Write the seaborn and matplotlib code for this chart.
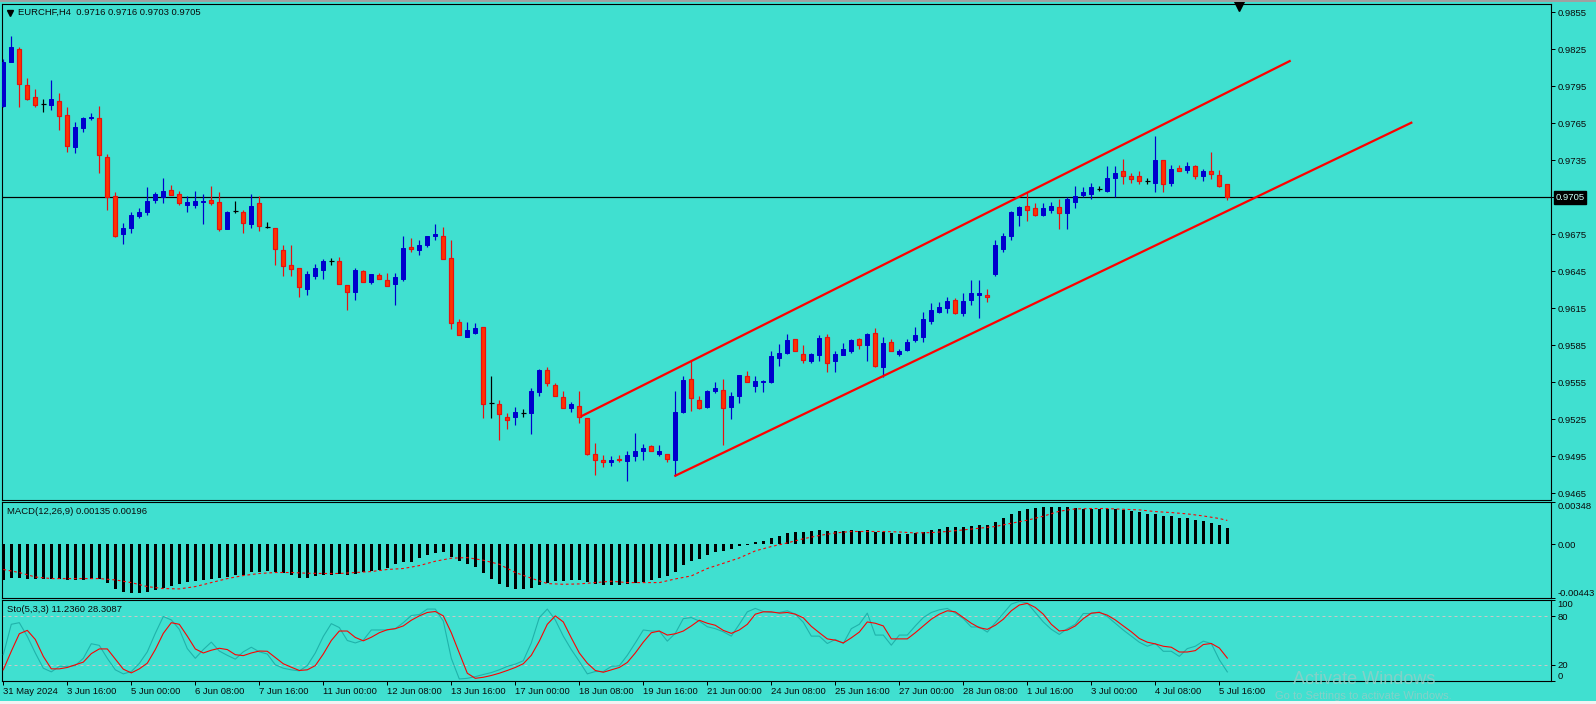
import numpy as np
import pandas as pd
import matplotlib
matplotlib.use("Agg")
import matplotlib.pyplot as plt
import matplotlib.transforms as mtransforms
from matplotlib.lines import Line2D
from matplotlib.patches import Rectangle
import seaborn as sns

plt.rcParams['font.family'] = ['Liberation Sans', 'DejaVu Sans']

# ---------------- data ----------------
symbol = "EURCHF,H4"
header_ohlc = ["0.9716", "0.9716", "0.9703", "0.9705"]
macd_header = "MACD(12,26,9) 0.00135 0.00196"
sto_header = "Sto(5,3,3) 11.2360 28.3087"

opens = [0.9779, 0.9815, 0.9825, 0.9796, 0.9786, 0.9781, 0.9780, 0.9783, 0.9772, 0.9746,
         0.9761, 0.9769, 0.9769, 0.9738, 0.9706, 0.9675, 0.9680, 0.9690, 0.9693, 0.9703,
         0.9705, 0.9711, 0.9708, 0.9699, 0.9699, 0.9701, 0.9703, 0.9701, 0.9679, 0.9694,
         0.9693, 0.9683, 0.9700, 0.9681, 0.9680, 0.9662, 0.9650, 0.9648, 0.9631, 0.9641,
         0.9646, 0.9653, 0.9653, 0.9634, 0.9628, 0.9645, 0.9636, 0.9642, 0.9638, 0.9635,
         0.9639, 0.9665, 0.9662, 0.9666, 0.9674, 0.9674, 0.9656, 0.9604, 0.9592, 0.9595,
         0.9600, 0.9538, 0.9537, 0.9527, 0.9527, 0.9530, 0.9530, 0.9547, 0.9565, 0.9553,
         0.9543, 0.9534, 0.9536, 0.9526, 0.9497, 0.9492, 0.9490, 0.9493, 0.9491, 0.9495,
         0.9499, 0.9503, 0.9497, 0.9497, 0.9492, 0.9531, 0.9558, 0.9541, 0.9535, 0.9548,
         0.9549, 0.9535, 0.9544, 0.9560, 0.9552, 0.9555, 0.9555, 0.9575, 0.9579, 0.9590,
         0.9578, 0.9572, 0.9577, 0.9592, 0.9572, 0.9577, 0.9580, 0.9590, 0.9585, 0.9595,
         0.9567, 0.9588, 0.9578, 0.9581, 0.9589, 0.9592, 0.9605, 0.9612, 0.9615, 0.9622,
         0.9611, 0.9622, 0.9626, 0.9626, 0.9643, 0.9663, 0.9674, 0.9691, 0.9698, 0.9696,
         0.9691, 0.9695, 0.9697, 0.9692, 0.9701, 0.9707, 0.9708, 0.9712, 0.9710, 0.9721,
         0.9726, 0.9722, 0.9722, 0.9718, 0.9717, 0.9735, 0.9717, 0.9729, 0.9727, 0.9730,
         0.9722, 0.9726, 0.9723, 0.9716]
highs = [0.9817, 0.9836, 0.9827, 0.9802, 0.9793, 0.9785, 0.9800, 0.9790, 0.9778, 0.9766,
         0.9770, 0.9773, 0.9779, 0.9740, 0.9709, 0.9684, 0.9693, 0.9696, 0.9713, 0.9709,
         0.9721, 0.9715, 0.9710, 0.9706, 0.9710, 0.9708, 0.9714, 0.9709, 0.9694, 0.9702,
         0.9695, 0.9708, 0.9706, 0.9685, 0.9680, 0.9666, 0.9666, 0.9648, 0.9645, 0.9651,
         0.9655, 0.9656, 0.9657, 0.9634, 0.9648, 0.9646, 0.9643, 0.9644, 0.9644, 0.9644,
         0.9674, 0.9672, 0.9670, 0.9674, 0.9683, 0.9681, 0.9670, 0.9606, 0.9604, 0.9603,
         0.9600, 0.9560, 0.9541, 0.9530, 0.9535, 0.9533, 0.9550, 0.9566, 0.9567, 0.9554,
         0.9548, 0.9539, 0.9548, 0.9526, 0.9506, 0.9496, 0.9495, 0.9496, 0.9499, 0.9514,
         0.9505, 0.9504, 0.9504, 0.9497, 0.9548, 0.9560, 0.9573, 0.9544, 0.9549, 0.9555,
         0.9558, 0.9547, 0.9561, 0.9564, 0.9560, 0.9557, 0.9580, 0.9586, 0.9594, 0.9590,
         0.9585, 0.9579, 0.9593, 0.9594, 0.9580, 0.9587, 0.9590, 0.9591, 0.9595, 0.9599,
         0.9592, 0.9590, 0.9582, 0.9590, 0.9600, 0.9612, 0.9619, 0.9620, 0.9624, 0.9623,
         0.9627, 0.9638, 0.9638, 0.9631, 0.9670, 0.9676, 0.9694, 0.9698, 0.9709, 0.9700,
         0.9700, 0.9701, 0.9704, 0.9705, 0.9714, 0.9713, 0.9717, 0.9714, 0.9730, 0.9730,
         0.9736, 0.9725, 0.9726, 0.9721, 0.9755, 0.9735, 0.9731, 0.9731, 0.9734, 0.9731,
         0.9728, 0.9742, 0.9727, 0.9716]
lows = [0.9778, 0.9815, 0.9778, 0.9784, 0.9778, 0.9774, 0.9776, 0.9760, 0.9742, 0.9741,
        0.9758, 0.9768, 0.9725, 0.9695, 0.9673, 0.9667, 0.9676, 0.9688, 0.9691, 0.9700,
        0.9700, 0.9707, 0.9699, 0.9693, 0.9696, 0.9683, 0.9699, 0.9678, 0.9679, 0.9692,
        0.9676, 0.9680, 0.9678, 0.9680, 0.9650, 0.9641, 0.9641, 0.9624, 0.9626, 0.9639,
        0.9639, 0.9650, 0.9635, 0.9614, 0.9622, 0.9636, 0.9635, 0.9639, 0.9633, 0.9618,
        0.9637, 0.9661, 0.9658, 0.9665, 0.9670, 0.9655, 0.9598, 0.9593, 0.9592, 0.9594,
        0.9526, 0.9526, 0.9508, 0.9517, 0.9520, 0.9527, 0.9513, 0.9544, 0.9552, 0.9544,
        0.9534, 0.9531, 0.9522, 0.9496, 0.9480, 0.9486, 0.9487, 0.9490, 0.9475, 0.9491,
        0.9492, 0.9499, 0.9495, 0.9490, 0.9479, 0.9530, 0.9532, 0.9533, 0.9534, 0.9546,
        0.9504, 0.9525, 0.9538, 0.9555, 0.9547, 0.9547, 0.9554, 0.9568, 0.9578, 0.9580,
        0.9571, 0.9571, 0.9572, 0.9563, 0.9563, 0.9577, 0.9579, 0.9582, 0.9572, 0.9567,
        0.9559, 0.9580, 0.9576, 0.9580, 0.9588, 0.9588, 0.9602, 0.9611, 0.9611, 0.9610,
        0.9609, 0.9618, 0.9607, 0.9620, 0.9641, 0.9661, 0.9670, 0.9682, 0.9686, 0.9690,
        0.9690, 0.9692, 0.9679, 0.9679, 0.9696, 0.9705, 0.9704, 0.9710, 0.9709, 0.9705,
        0.9716, 0.9717, 0.9716, 0.9716, 0.9709, 0.9709, 0.9714, 0.9726, 0.9725, 0.9720,
        0.9718, 0.9720, 0.9713, 0.9703]
closes = [0.9815, 0.9827, 0.9797, 0.9785, 0.9780, 0.9781, 0.9785, 0.9771, 0.9747, 0.9762,
          0.9769, 0.9770, 0.9739, 0.9705, 0.9674, 0.9680, 0.9691, 0.9693, 0.9702, 0.9708,
          0.9710, 0.9707, 0.9700, 0.9701, 0.9702, 0.9702, 0.9700, 0.9679, 0.9693, 0.9694,
          0.9684, 0.9698, 0.9682, 0.9681, 0.9663, 0.9649, 0.9647, 0.9632, 0.9643, 0.9648,
          0.9653, 0.9653, 0.9635, 0.9628, 0.9646, 0.9636, 0.9643, 0.9639, 0.9633, 0.9640,
          0.9664, 0.9663, 0.9666, 0.9674, 0.9675, 0.9655, 0.9603, 0.9593, 0.9597, 0.9599,
          0.9537, 0.9538, 0.9529, 0.9524, 0.9531, 0.9530, 0.9548, 0.9565, 0.9554, 0.9544,
          0.9534, 0.9537, 0.9527, 0.9497, 0.9492, 0.9490, 0.9492, 0.9492, 0.9496, 0.9499,
          0.9502, 0.9499, 0.9499, 0.9493, 0.9531, 0.9557, 0.9542, 0.9534, 0.9548, 0.9550,
          0.9534, 0.9544, 0.9561, 0.9555, 0.9556, 0.9556, 0.9576, 0.9579, 0.9589, 0.9580,
          0.9573, 0.9578, 0.9591, 0.9571, 0.9578, 0.9582, 0.9589, 0.9585, 0.9594, 0.9568,
          0.9587, 0.9580, 0.9580, 0.9588, 0.9593, 0.9606, 0.9614, 0.9616, 0.9621, 0.9611,
          0.9621, 0.9627, 0.9627, 0.9624, 0.9666, 0.9674, 0.9693, 0.9697, 0.9695, 0.9691,
          0.9696, 0.9698, 0.9692, 0.9704, 0.9706, 0.9709, 0.9713, 0.9712, 0.9721, 0.9725,
          0.9722, 0.9720, 0.9718, 0.9718, 0.9735, 0.9716, 0.9728, 0.9726, 0.9730, 0.9722,
          0.9726, 0.9724, 0.9714, 0.9705]

macd_hist = [-0.00298, -0.00276, -0.00276, -0.00284, -0.00287, -0.00287, -0.00287, -0.00287, -0.00298, -0.00298,
             -0.00293, -0.00287, -0.00287, -0.00323, -0.00372, -0.00394, -0.00405, -0.00405, -0.00394, -0.00381,
             -0.00364, -0.00348, -0.00331, -0.00315, -0.00303, -0.00295, -0.00290, -0.00279, -0.00270, -0.00251,
             -0.00251, -0.00232, -0.00227, -0.00218, -0.00227, -0.00237, -0.00251, -0.00276, -0.00276, -0.00265,
             -0.00257, -0.00251, -0.00246, -0.00251, -0.00243, -0.00232, -0.00218, -0.00210, -0.00194, -0.00166,
             -0.00144, -0.00144, -0.00117, -0.00092, -0.00076, -0.00068, -0.00109, -0.00142, -0.00166, -0.00185,
             -0.00239, -0.00283, -0.00325, -0.00356, -0.00367, -0.00372, -0.00364, -0.00334, -0.00317, -0.00307,
             -0.00307, -0.00298, -0.00298, -0.00315, -0.00331, -0.00339, -0.00339, -0.00339, -0.00328, -0.00320,
             -0.00309, -0.00293, -0.00282, -0.00265, -0.00232, -0.00175, -0.00142, -0.00125, -0.00092, -0.00068,
             -0.00059, -0.00043, -0.00011, -0.00005, 0.00019, 0.00027, 0.00049, 0.00066, 0.00093, 0.00101,
             0.00101, 0.00107, 0.00114, 0.00107, 0.00107, 0.00107, 0.00115, 0.00110, 0.00115, 0.00101,
             0.00101, 0.00093, 0.00085, 0.00088, 0.00096, 0.00101, 0.00115, 0.00126, 0.00140, 0.00140,
             0.00140, 0.00151, 0.00159, 0.00159, 0.00181, 0.00214, 0.00250, 0.00272, 0.00291, 0.00299,
             0.00307, 0.00307, 0.00307, 0.00305, 0.00297, 0.00291, 0.00291, 0.00291, 0.00291, 0.00291,
             0.00280, 0.00272, 0.00264, 0.00250, 0.00250, 0.00233, 0.00233, 0.00217, 0.00217, 0.00198,
             0.00190, 0.00173, 0.00159, 0.00135]
# signal line read at every second bar (plus the last one)
macd_signal = [-0.00208, -0.00233, -0.00270, -0.00283, -0.00283, -0.00283, -0.00283, -0.00294, -0.00316, -0.00349,
               -0.00365, -0.00368, -0.00349, -0.00316, -0.00283, -0.00258, -0.00241, -0.00233, -0.00233, -0.00239,
               -0.00241, -0.00241, -0.00233, -0.00225, -0.00208, -0.00200, -0.00176, -0.00140, -0.00115, -0.00110,
               -0.00132, -0.00165, -0.00233, -0.00280, -0.00324, -0.00330, -0.00327, -0.00316, -0.00305, -0.00316,
               -0.00316, -0.00316, -0.00286, -0.00261, -0.00200, -0.00157, -0.00113, -0.00055, -0.00019, 0.00011,
               0.00045, 0.00072, 0.00093, 0.00105, 0.00105, 0.00105, 0.00101, 0.00093, 0.00096, 0.00105,
               0.00118, 0.00132, 0.00146, 0.00173, 0.00198, 0.00231, 0.00272, 0.00291, 0.00294, 0.00294,
               0.00288, 0.00283, 0.00269, 0.00261, 0.00250, 0.00233, 0.00212,
               0.00196]
macd_signal_bars = list(range(0, 153, 2)) + [153]

sto_main = [32.5, 70, 72, 55, 34.6, 15.8, 11.3, 18, 18, 19,
            28, 46, 44, 28, 13.8, 8.8, 11.7, 21.7, 36, 58.8,
            79.6, 75.4, 63.8, 40, 28, 38.8, 48, 37, 31.7, 27,
            36, 41.7, 36, 33.3, 20, 15.8, 13.8, 12.5, 19, 34.6,
            55, 70.8, 66, 50, 47, 50.4, 63, 63, 63, 64.6,
            72, 80.8, 82, 88.8, 88.8, 74, 28, 2.5, 3.3, 5.4,
            8, 10.4, 13.8, 18, 20.8, 25, 47, 78.3, 88.8, 75.4,
            55.4, 38.8, 24.2, 8.8, 11.7, 11.7, 18, 18.8, 31.7, 47,
            63, 61.7, 61.7, 49.2, 58.8, 77, 78.3, 74, 67, 64.6,
            60.8, 55.4, 70, 85.4, 89.6, 85.8, 84.6, 84.6, 86.7, 82.5,
            72.5, 55.4, 55.4, 46.3, 51.3, 46.3, 64.6, 70, 83.8, 56.7,
            56.7, 44.2, 56.7, 56.7, 68, 78.3, 84.6, 87.9, 89.6, 83.8,
            77, 66.7, 66.7, 60.4, 72, 83.8, 95, 98.3, 96.3, 84.6,
            72.9, 63.8, 57.5, 64.6, 70, 83.3, 83.3, 85.4, 79.6, 71.3,
            62.9, 55.4, 47.9, 42.9, 46.3, 36.7, 36.7, 30.4, 40, 42.9,
            49.2, 46.3, 26.3, 11.236]
sto_signal = [13.8, 36.7, 58.3, 62.5, 51.3, 30.4, 15, 15, 16.7, 20,
              23.3, 33.8, 39.6, 39.6, 27, 14.6, 10, 15, 22, 38.8,
              58.8, 72, 70, 55.4, 39.6, 34.6, 38, 40.4, 38.8, 32.5,
              31.3, 34.6, 37, 36.7, 29, 21.3, 17, 13, 13.8, 19,
              33.3, 50, 61.7, 61.7, 53.8, 49.6, 54, 59.6, 63.3, 64.6,
              68, 75, 80.4, 84.6, 85.8, 80.4, 59.6, 34.6, 9.6, 3.3,
              4.6, 6.8, 9.6, 13, 16.7, 21.3, 31.7, 49.2, 70, 80.4,
              72.9, 53.3, 34.6, 22, 13, 10.8, 13.8, 16.7, 22.9, 34.6,
              48, 59.6, 61.7, 56.7, 58.3, 61.7, 68, 75, 71.3, 68.8,
              62.5, 58.8, 63, 70, 82.5, 85.4, 85.4, 83.8, 84.6, 82.5,
              78, 67.5, 59.6, 52, 50.4, 47, 53.3, 60.4, 72.9, 71.3,
              68, 52, 52, 52, 59.6, 68, 76.3, 82.5, 86.7, 85.4,
              78.3, 71.3, 65.8, 63.8, 68.8, 76.3, 86.7, 93.8, 95.8, 90.8,
              82.5, 70, 61.7, 62.9, 68, 77, 83.8, 84.6, 81.3, 75.4,
              68, 60.8, 52.5, 47.9, 45.8, 42.9, 41.7, 35.8, 35.8, 37.5,
              45, 46.3, 40.8, 28.3087]

time_labels = ["31 May 2024", "3 Jun 16:00", "5 Jun 00:00", "6 Jun 08:00", "7 Jun 16:00",
               "11 Jun 00:00", "12 Jun 08:00", "13 Jun 16:00", "17 Jun 00:00", "18 Jun 08:00",
               "19 Jun 16:00", "21 Jun 00:00", "24 Jun 08:00", "25 Jun 16:00", "27 Jun 00:00",
               "28 Jun 08:00", "1 Jul 16:00", "3 Jul 00:00", "4 Jul 08:00", "5 Jul 16:00"]
time_label_bars = list(range(0, 153, 8))

price_ticks = [0.9465, 0.9495, 0.9525, 0.9555, 0.9585, 0.9615, 0.9645, 0.9675,
               0.9705, 0.9735, 0.9765, 0.9795, 0.9825, 0.9855]
macd_ticks = [-0.00443, 0.0, 0.00348]
macd_tick_labels = ["-0.00443", "0.00", "0.00348"]
sto_ticks = [0, 20, 80, 100]
sto_levels = [20, 80]

# channel trend lines (bar position, price)
upper_line_bars = [72.3, 160.8]
upper_line_price = [0.95276, 0.98155]
lower_line_bars = [84.0, 176.0]
lower_line_price = [0.94792, 0.97655]

watermark = ["Activate Windows", "Go to Settings to activate Windows."]

# ---------------- style ----------------
BG = '#40E0D0'
BULL = '#0000CD'
BEAR_FILL = '#FF3300'
BEAR_EDGE = '#E81010'
TXT = '#0a0a0a'
FS = 6.8
PX = 0.72  # one pixel in points

W, H = 1596, 704
fig = plt.figure(figsize=(W / 100, H / 100), dpi=100, facecolor=BG)


def box(x0, y0, x1, y1):
    return [x0 / W, 1 - y1 / H, (x1 - x0) / W, (y1 - y0) / H]


ax = fig.add_axes(box(2, 4, 1551, 500))
axm = fig.add_axes(box(2, 502, 1551, 598), sharex=ax)
axs = fig.add_axes(box(2, 600, 1551, 681), sharex=ax)

for a in (ax, axm, axs):
    a.set_facecolor(BG)
    for s in a.spines.values():
        s.set_color('black')
        s.set_linewidth(PX * 1.1)
    a.yaxis.tick_right()
    a.tick_params(axis='y', direction='out', length=3, width=PX, pad=1.5,
                  labelsize=FS, colors='black', labelcolor=TXT)
    a.tick_params(axis='x', bottom=False, labelbottom=False, top=False)

ax.set_xlim(-0.1625, 193.4625)

# ---------------- candles ----------------
x = np.arange(len(closes))
o = np.array(opens)
c = np.array(closes)
h = np.maximum(np.array(highs), np.maximum(o, c))
l = np.minimum(np.array(lows), np.minimum(o, c))
bull = c > o + 1e-9
bear = c < o - 1e-9
doji = ~(bull | bear)

ax.vlines(x[bull], l[bull], h[bull], color=BULL, lw=PX * 1.2, zorder=3)
ax.vlines(x[bear], l[bear], h[bear], color=BEAR_EDGE, lw=PX * 1.2, zorder=3)
ax.vlines(x[doji], l[doji], h[doji], color='black', lw=PX * 1.2, zorder=3)
ax.bar(x[bull], (c - o)[bull], bottom=o[bull], width=0.5, color=BULL,
       edgecolor=BULL, lw=PX, zorder=4)
ax.bar(x[bear], (o - c)[bear], bottom=c[bear], width=0.5, color=BEAR_FILL,
       edgecolor=BEAR_EDGE, lw=PX * 1.2, zorder=4)
ax.hlines(o[doji], x[doji] - 0.33, x[doji] + 0.33, color='black', lw=PX * 1.2, zorder=4)

# bid line
ax.axhline(c[-1], color='black', lw=PX * 1.2, zorder=2)

# channel lines
chan = pd.DataFrame({'bar': upper_line_bars + lower_line_bars,
                     'price': upper_line_price + lower_line_price,
                     'line': ['upper', 'upper', 'lower', 'lower']})
for name in ['upper', 'lower']:
    d = chan[chan['line'] == name]
    sns.lineplot(data=d, x='bar', y='price', ax=ax, color='#FF0000', lw=1.6,
                 estimator=None, zorder=5)

ax.set_ylim(0.94595, 0.98618)
ax.set_yticks(price_ticks)
ax.set_yticklabels([('' if abs(t - c[-1]) < 1e-7 else f"{t:.4f}") for t in price_ticks])
ax.set_xlabel('')
ax.set_ylabel('')

# current price label
btr = mtransforms.blended_transform_factory(ax.transAxes, ax.transData)
ax.text(1.0029, c[-1], f"{c[-1]:.4f}", transform=btr, ha='left', va='center',
        fontsize=FS, color='#c8fff8', clip_on=False, zorder=20,
        bbox=dict(boxstyle='square,pad=0.18', fc='black', ec='black'))

# chart-shift marker at top
ttr = mtransforms.blended_transform_factory(ax.transData, ax.transAxes)
ax.plot([154.5], [0.995], marker='v', ms=6.5, color='black', transform=ttr,
        clip_on=False, zorder=20)

# ---------------- MACD ----------------
axm.bar(x, macd_hist, width=0.42, color='black', lw=0, zorder=3)
dsig = pd.DataFrame({'bar': macd_signal_bars, 'signal': macd_signal})
sns.lineplot(data=dsig, x='bar', y='signal', ax=axm, color='#FF0000', lw=PX * 1.1,
             estimator=None, zorder=4)
axm.lines[-1].set_linestyle((0, (2.5, 2.5)))
axm.set_ylim(macd_ticks[0], macd_ticks[-1])
axm.set_yticks(macd_ticks)
axm.set_yticklabels(macd_tick_labels)
for lbl in axm.get_yticklabels():
    t = lbl.get_text()
    if t == macd_tick_labels[-1]:
        lbl.set_va('top')
    elif t == macd_tick_labels[0]:
        lbl.set_va('bottom')
axm.set_xlabel('')
axm.set_ylabel('')

# ---------------- Stochastic ----------------
for lv in sto_levels:
    axs.axhline(lv, color='#C8C8C8', lw=PX, ls=(0, (3, 3)), zorder=2)
dsto = pd.DataFrame({'bar': x, 'main': sto_main, 'signal': sto_signal})
sns.lineplot(data=dsto, x='bar', y='main', ax=axs, color='#20B2AA', lw=PX * 1.1,
             estimator=None, zorder=3)
sns.lineplot(data=dsto, x='bar', y='signal', ax=axs, color='#FF0000', lw=PX * 1.1,
             estimator=None, zorder=4)
axs.set_ylim(0, 100)
axs.set_yticks(sto_ticks)
axs.set_yticklabels([str(t) for t in sto_ticks])
for lbl in axs.get_yticklabels():
    t = lbl.get_text()
    if t == '100':
        lbl.set_va('top')
    elif t == '0':
        lbl.set_va('bottom')
axs.set_xlabel('')
axs.set_ylabel('')

axs.set_xticks(time_label_bars)
axs.set_xticklabels(time_labels)
axs.tick_params(axis='x', bottom=True, labelbottom=True, direction='out', length=3,
                width=PX, pad=1.2, labelsize=FS, colors='black', labelcolor=TXT)
for lbl in axs.get_xticklabels():
    lbl.set_ha('left')
ax.set_xlim(-0.1625, 193.4625)

# ---------------- header texts ----------------
fig.add_artist(Line2D([9.5 / W], [1 - 12.5 / H], marker='v', ms=4.5, color='black',
                      transform=fig.transFigure))
fig.text(18.3 / W, 1 - 12.7 / H, symbol + "  " + " ".join(header_ohlc),
         fontsize=FS, color=TXT, va='center', ha='left')
fig.text(7.3 / W, 1 - 511.7 / H, macd_header, fontsize=FS, color=TXT, va='center', ha='left')
fig.text(7.3 / W, 1 - 609.3 / H, sto_header, fontsize=FS, color=TXT, va='center', ha='left')

# window edges
fig.add_artist(Rectangle((0, 1 - 2 / H), 1, 2 / H, transform=fig.transFigure,
                         color='#A0A0A0', lw=0))
fig.add_artist(Rectangle((0, 0), 1, 3 / H, transform=fig.transFigure,
                         color='#F2F2F2', lw=0))

# faint OS watermark
fig.text(1293 / W, 1 - 680 / H, watermark[0], fontsize=13, color='#8ccfc7',
         va='center', ha='left', alpha=0.9)
fig.text(1275 / W, 1 - 696 / H, watermark[1], fontsize=8, color='#8ccfc7',
         va='center', ha='left', alpha=0.9)

fig.savefig("out.png", dpi=100, facecolor=BG)
